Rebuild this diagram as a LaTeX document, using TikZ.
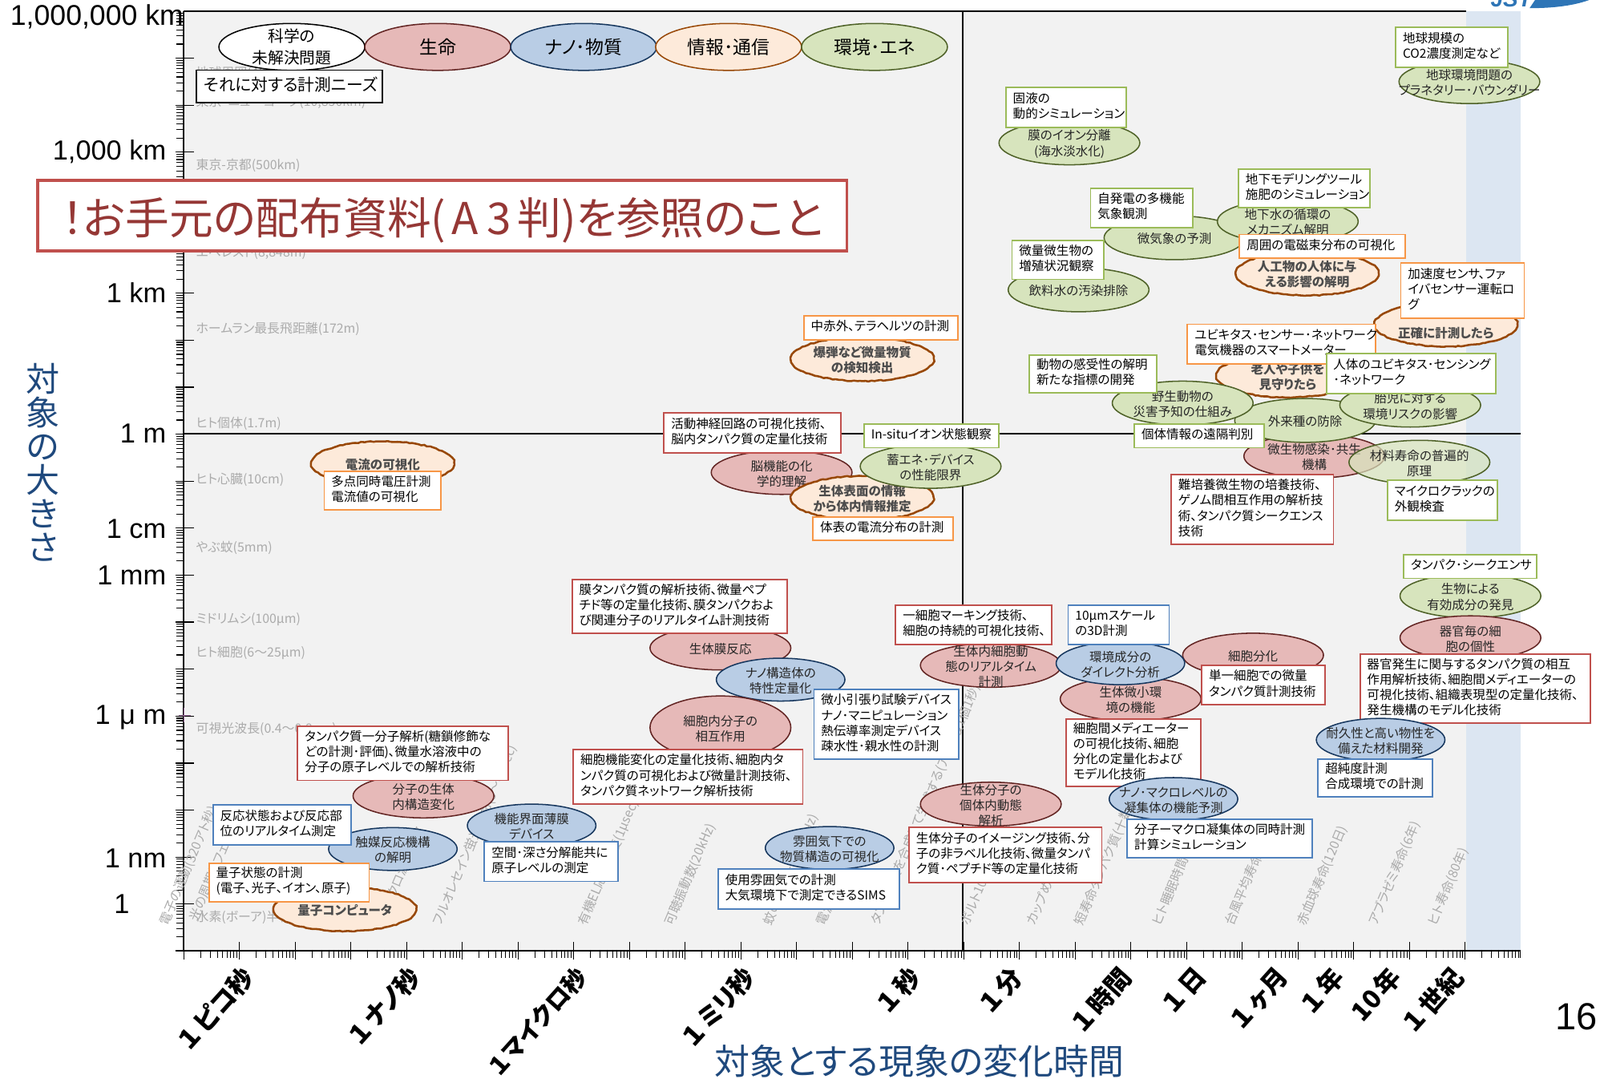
\documentclass[tikz,border=0pt]{standalone}
\usepackage{fontspec}
\setmainfont[RawFeature={+palt}]{Noto Sans CJK JP}
\newfontfamily\axisfont{Liberation Sans}
\usetikzlibrary{shapes.geometric,positioning,decorations.pathmorphing}

\definecolor{lifefill}{HTML}{E6B9B8}
\definecolor{lifeline}{HTML}{632523}
\definecolor{nanofill}{HTML}{B9CDE5}
\definecolor{nanoline}{HTML}{17375E}
\definecolor{infofill}{HTML}{FDEADA}
\definecolor{infoline}{HTML}{984807}
\definecolor{envfill}{HTML}{D7E4BD}
\definecolor{envline}{HTML}{4F6228}
\definecolor{redbord}{HTML}{C0504D}
\definecolor{bluebord}{HTML}{4F81BD}
\definecolor{orangebord}{HTML}{F79646}
\definecolor{greenbord}{HTML}{9BBB59}
\definecolor{plotgray}{HTML}{F2F2F2}
\definecolor{stripblue}{HTML}{DCE6F2}
\definecolor{titleblue}{HTML}{1F497D}
\definecolor{bannerred}{HTML}{953735}
\definecolor{logoblue}{HTML}{2E75B6}

\tikzset{
	smalltxt/.style={font=\fontsize{12.2}{15}\selectfont},
	ell/.style={ellipse, inner sep=0pt, line width=1.2pt, minimum width=138pt, minimum height=43pt},
	etxt/.style={label={[smalltxt, align=center, text=black!85, yshift=-1pt]center:{#1}}},
	ftxt/.style={label={[smalltxt, align=center, text=black!70, yshift=-1pt, font=\fontsize{12.2}{15}\selectfont\bfseries]center:{#1}}},
	lifeell/.style={ell, draw=lifeline, fill=lifefill},
	nanoell/.style={ell, draw=nanoline, fill=nanofill, minimum width=126pt, minimum height=42pt},
	envell/.style={ell, draw=envline, fill=envfill},
	infoell/.style={ell, draw=infoline, fill=infofill, line width=2pt, minimum width=140pt, decorate, decoration={random steps, segment length=3pt, amplitude=0.5pt}},
	legend/.style={ell, minimum width=143pt, minimum height=46pt},
	legtxt/.style={label={[align=center, font=\fontsize{18}{21}\selectfont]center:{#1}}},
	wh/.code 2 args={\pgfmathsetlengthmacro\boxtw{#1-14}\tikzset{text width=\boxtw, minimum height=#2pt}},
	tbox/.style={rectangle, anchor=north west, fill=white, line width=1.5pt, inner xsep=7pt, inner ysep=0pt, align=left, smalltxt, execute at end node=\vspace{3pt}},
	redbox/.style={tbox, draw=redbord},
	bluebox/.style={tbox, draw=bluebord},
	orangebox/.style={tbox, draw=orangebord},
	greenbox/.style={tbox, draw=greenbord},
	graytxt/.style={anchor=west, inner sep=0pt, text=black!33, font=\fontsize{12.5}{14}\selectfont},
	rottxt/.style={anchor=west, rotate=67, xshift=3pt, text=black!33, font=\fontsize{12.5}{14}\selectfont},
	ylab/.style={anchor=east, inner sep=0pt, font=\axisfont\fontsize{27}{30}\selectfont},
	xlab/.style={anchor=east, rotate=48, font=\fontsize{25}{27}\selectfont\bfseries},
}

\begin{document}
\begin{tikzpicture}[x=1pt,y=-1pt]
	\useasboundingbox (0,0) rectangle (1568,1057);

	% plot area
	\fill[plotgray] (180,11) rectangle (1437,932);
	\fill[stripblue] (1437,11) rectangle (1490,932);
	\draw[line width=1pt] (180,11) -- (1437,11);
	\draw[line width=1pt] (943.5,11) -- (943.5,932);
	\draw[line width=1.3pt] (180,425) -- (1490,425);

	% axes and log ticks
	\foreach \k in {0,...,19} {
		\pgfmathsetmacro\yy{932-46.05*\k}
		\draw[line width=0.9pt] (172,\yy) -- (190,\yy);
		\foreach \m in {2,...,9} {
			\pgfmathsetmacro\yy{932-46.05*(\k+log10(\m))}
			\draw[line width=0.9pt] (173,\yy) -- (180,\yy);
		}
	}
	\foreach \k in {0,...,23} {
		\pgfmathsetmacro\xx{180+54.6*\k}
		\draw[line width=0.7pt] (\xx,923) -- (\xx,940);
		\foreach \m in {2,...,9} {
			\pgfmathsetmacro\xx{180+54.6*(\k+log10(\m))}
			\draw[line width=0.7pt] (\xx,932) -- (\xx,939);
		}
	}
	\draw[line width=0.7pt] (1490,932) -- (1490,939);
	\draw[line width=1.6pt] (180,11) -- (180,932);
	\draw[line width=1.6pt] (172,932) -- (1490,932);
	\draw[black!40!violet!60, line width=0.7pt] (175,701) -- (187,701) (180,694) -- (180,708);

	% background scale labels
	\node[graytxt] (g1) at (192,72) {地球周囲(40,000km)};
	\node[graytxt] (g2) at (192,100) {東京･ニューヨーク(10,850km)};
	\node[graytxt] (g3) at (192,162) {東京-京都(500km)};
	\node[graytxt] (g4) at (192,248) {エベレスト(8,848m)};
	\node[graytxt] (g5) at (192,322) {ホームラン最長飛距離(172m)};
	\node[graytxt] (g6) at (192,415) {ヒト個体(1.7m)};
	\node[graytxt] (g7) at (192,470) {ヒト心臓(10cm)};
	\node[graytxt] (g8) at (192,537) {やぶ蚊(5mm)};
	\node[graytxt] (g9) at (192,607) {ミドリムシ(100μm)};
	\node[graytxt] (g10) at (192,640) {ヒト細胞(6～25μm)};
	\node[graytxt] (g11) at (192,714) {可視光波長(0.4～0.8μm)};
	\node[graytxt] (g12) at (192,899) {水素(ボーア)半径};
	\foreach \gx/\gy/\gt [count=\i] in {
		158/912/{電子の運動(320アト秒)},
		187/908/{光の周期(1フェムト秒)},
		372/905/{マイクロ波周波数},
		426/912/{フルオレセイン蛍光寿命(3～4nsec)},
		568/912/{有機EL応答速度(1μsec)},
		653/912/{可聴振動数(20kHz)},
		750/912/{蚊の羽ばたき(600Hz)},
		802/912/{電源周波数(50Hz)},
		855/912/{タンパク質を合成して生成する(アミノ酸1個1秒)},
		943/912/{ボルト100m走(9.58秒)},
		1008/912/{カップめん(3分)},
		1055/912/{短寿命タンパク質(十数分)},
		1131/912/{ヒト睡眠時間(8時間)},
		1202/912/{台風平均寿命(5日)},
		1273/912/{赤血球寿命(120日)},
		1343/912/{アブラゼミ寿命(6年)},
		1401/912/{ヒト寿命(80年)}}
		\node[rottxt] (rot\i) at (\gx,\gy) {\gt};

	% axis labels
	\node[ylab, font=\axisfont\fontsize{28}{30}\selectfont] (y6) at (180,16) {1,000,000 km};
	\node[ylab] (y5) at (163,149) {1,000 km};
	\node[ylab] (y4) at (163,287) {1 km};
	\node[ylab] (y3) at (163,425) {1 m};
	\node[ylab] (y2) at (163,518) {1 cm};
	\node[ylab] (y1) at (163,564) {1 mm};
	\node[ylab] (ym) at (163,703) {1\,\,μ m};
	\node[ylab] (yn) at (163,841) {1 nm};
	\node[ylab] (ya) at (127,886) {1};
	\node[xlab] (t1) at (246,950) {１\hspace{4pt}ピコ秒};
	\node[xlab] (t2) at (409,950) {１\hspace{4pt}ナノ秒};
	\node[xlab, font=\fontsize{23.5}{25}\selectfont\bfseries] (t3) at (573,950) {１\hspace{2pt}マイクロ秒};
	\node[xlab] (t4) at (737,950) {１\hspace{4pt}ミリ秒};
	\node[xlab] (t5) at (899,950) {１\hspace{4pt}秒};
	\node[xlab] (t6) at (999,950) {１\hspace{4pt}分};
	\node[xlab] (t7) at (1106,950) {１\hspace{4pt}時間};
	\node[xlab] (t8) at (1179,950) {１\hspace{4pt}日};
	\node[xlab] (t9) at (1260,950) {１\hspace{4pt}ヶ月};
	\node[xlab] (t10) at (1314,950) {１\hspace{4pt}年};
	\node[xlab] (t11) at (1370,950) {10\hspace{3pt}年};
	\node[xlab] (t12) at (1431,950) {１\hspace{4pt}世紀};
	\node[align=center, text=titleblue, font=\fontsize{33}{33}\selectfont] (ytitle) at (42,453) {対\\象\\の\\大\\き\\さ};
	\node[text=titleblue, font=\fontsize{34.5}{36}\selectfont] (xtitle) at (901,1040) {対象とする現象の変化時間};
	\node[font=\axisfont\fontsize{37}{39}\selectfont] (pagenum) at (1545,996) {16};

	% legend
	\node[legend, draw=black, fill=white, label={[align=center, font=\fontsize{15.5}{21}\selectfont]center:{科学の\\未解決問題}}] (legsci) at (286,46) {};
	\node[legend, draw=lifeline, fill=lifefill, legtxt={生命}] (leglife) at (429,46) {};
	\node[legend, draw=nanoline, fill=nanofill, legtxt={ナノ･物質}] (legnano) at (572,46) {};
	\node[legend, draw=infoline, fill=infofill, legtxt={情報･通信}] (leginfo) at (714,46) {};
	\node[legend, draw=envline, fill=envfill, legtxt={環境･エネ}] (legenv) at (857,46) {};
	\node[tbox, draw=black, font=\fontsize{16.3}{19}\selectfont, wh={182}{32}] (needs) at (192,68) {それに対する計測ニーズ};

	% seeds: lower left
	\node[infoell, ftxt={電流の可視化}] (current) at (375,454) {};
	\node[orangebox, wh={114}{38}] (currentbox) at (317,461) {多点同時電圧計測\\電流値の可視化};
	\node[lifeell, etxt={分子の生体\\内構造変化}] (molbody) at (415,780) {};
	\node[redbox, wh={206}{53}] (molbox) at (291,711) {タンパク質一分子解析(糖鎖修飾な\\どの計測･評価)、微量水溶液中の\\分子の原子レベルでの解析技術};
	\node[nanoell, etxt={触媒反応機構\\の解明}] (catalyst) at (385,832) {};
	\node[bluebox, wh={135}{39}] (catbox) at (208,788) {反応状態および反応部\\位のリアルタイム測定};
	\node[infoell, ftxt={量子コンピュータ}] (quantum) at (338,891) {};
	\node[orangebox, wh={157}{38}] (quantbox) at (204,845) {量子状態の計測\\(電子、光子、イオン、原子)};
	\node[nanoell, etxt={機能界面薄膜\\デバイス}] (iface) at (521,809) {};
	\node[bluebox, wh={131}{39}] (ifacebox) at (474,824) {空間･深さ分解能共に\\原子レベルの測定};

	% seeds: center
	\node[lifeell, etxt={生体膜反応}] (membrane) at (706,635) {};
	\node[redbox, wh={211}{53}] (membox) at (560,567) {膜タンパク質の解析技術、微量ペプ\\チド等の定量化技術、膜タンパクおよ\\び関連分子のリアルタイム計測技術};
	\node[nanoell, etxt={ナノ構造体の\\特性定量化}] (nanostr) at (765,666) {};
	\node[lifeell, minimum height=62pt, etxt={細胞内分子の\\相互作用}] (cellmol) at (706,713) {};
	\node[redbox, wh={225}{53}] (cellbox) at (561,734) {細胞機能変化の定量化技術、細胞内タ\\ンパク質の可視化および微量計測技術、\\タンパク質ネットワーク解析技術};
	\node[bluebox, wh={142}{68}] (tensile) at (797,675) {微小引張り試験デバイス\\ナノ･マニピュレーション\\熱伝導率測定デバイス\\疎水性･親水性の計測};
	\node[nanoell, etxt={雰囲気下での\\物質構造の可視化}] (atmos) at (813,831) {};
	\node[bluebox, wh={178}{39}] (atmosbox) at (703,851) {使用雰囲気での計測\\大気環境下で測定できるSIMS};
	\node[lifeell, etxt={脳機能の化\\学的理解}] (brain) at (766,463) {};
	\node[redbox, wh={173}{39}] (brainbox) at (650,404) {活動神経回路の可視化技術、\\脳内タンパク質の定量化技術};
	\node[infoell, ftxt={生体表面の情報\\から体内情報推定}] (surface) at (845,488) {};
	\node[orangebox, wh={137}{23}] (surfbox) at (796,506) {体表の電流分布の計測};
	\node[envell, etxt={蓄エネ･デバイス\\の性能限界}] (storage) at (912,457) {};
	\node[greenbox, wh={132}{23}] (insitu) at (846,415) {\mbox{In-situ}イオン状態観察};
	\node[infoell, ftxt={爆弾など微量物質\\の検知検出}] (explosive) at (845,352) {};
	\node[orangebox, wh={151}{23}] (terahz) at (787,309) {中赤外、テラヘルツの計測};

	% seeds: cell level
	\node[lifeell, etxt={生体内細胞動\\態のリアルタイム\\計測}] (invivo) at (971,652) {};
	\node[redbox, wh={153}{39}] (invivobox) at (877,592) {一細胞マーキング技術、\\細胞の持続的可視化技術、};
	\node[lifeell, etxt={生体分子の\\個体内動態\\解析}] (biomol) at (971,788) {};
	\node[redbox, wh={189}{54}] (biobox) at (890,810) {生体分子のイメージング技術、分\\子の非ラベル化技術、微量タンパ\\ク質･ペプチド等の定量化技術};
	\node[lifeell, etxt={生体微小環\\境の機能}] (micro) at (1108,685) {};
	\node[redbox, wh={132}{66}] (microbox) at (1044,704) {細胞間メディエーター\\の可視化技術、細胞\\分化の定量化および\\モデル化技術};
	\node[lifeell, etxt={細胞分化}] (differ) at (1228,642) {};
	\node[redbox, wh={121}{39}] (differbox) at (1177,651) {単一細胞での微量\\タンパク質計測技術};
	\node[nanoell, etxt={環境成分の\\ダイレクト分析}] (envdirect) at (1098,650) {};
	\node[bluebox, wh={99}{39}] (tenmicron) at (1046,592) {10μmスケール\\の3D計測};
	\node[nanoell, etxt={ナノ･マクロレベルの\\凝集体の機能予測}] (aggregate) at (1150,783) {};
	\node[bluebox, wh={181}{38}] (aggbox) at (1104,802) {分子ーマクロ凝集体の同時計測\\計算シミュレーション};

	% seeds: upper right
	\node[envell, etxt={地球環境問題の\\プラネタリー･バウンダリー}] (planet) at (1440,80) {};
	\node[greenbox, wh={110}{39}] (co2) at (1367,26) {地球規模の\\CO2濃度測定など};
	\node[envell, etxt={膜のイオン分離\\(海水淡水化)}] (ionsep) at (1048,140) {};
	\node[greenbox, wh={118}{39}] (solid) at (985,85) {固液の\\動的シミュレーション};
	\node[envell, etxt={微気象の予測}] (climate) at (1151,233) {};
	\node[greenbox, wh={100}{38}] (selfgen) at (1068,184) {自発電の多機能\\気象観測};
	\node[envell, etxt={地下水の循環の\\メカニズム解明}] (ground) at (1262,217) {};
	\node[greenbox, wh={129}{38}] (soil) at (1213,165) {地下モデリングツール\\施肥のシミュレーション};
	\node[infoell, ftxt={人工物の人体に与\\える影響の解明}] (artifact) at (1281,268) {};
	\node[orangebox, wh={162}{23}] (emflux) at (1214,229) {周囲の電磁束分布の可視化};
	\node[envell, etxt={飲料水の汚染排除}] (water) at (1057,284) {};
	\node[greenbox, wh={90}{38}] (microbe) at (991,235) {微量微生物の\\増殖状況観察};
	\node[infoell, ftxt={\phantom{あ}\\正確に計測したら}] (accurate) at (1417,318) {};
	\node[orangebox, wh={121}{54}] (accel) at (1372,257) {加速度センサ、ファ\\イバセンサー運転ロ\\グ};
	\node[infoell, ftxt={老人や子供を\\見守りたら}] (elderly) at (1262,368) {};
	\node[orangebox, wh={184}{39}] (ubiq) at (1163,317) {ユビキタス･センサー･ネットワーク\\電気機器のスマートメーター};
	\node[lifeell, etxt={微生物感染･共生\\機構}] (infect) at (1288,447) {};
	\node[envell, etxt={外来種の防除}] (alien) at (1279,412) {};
	\node[envell, etxt={胎児に対する\\環境リスクの影響}] (fetus) at (1382,397) {};
	\node[greenbox, wh={166}{39}] (humanubiq) at (1299,346) {人体のユビキタス･センシング\\･ネットワーク};
	\node[envell, etxt={野生動物の\\災害予知の仕組み}] (wild) at (1159,395) {};
	\node[greenbox, wh={125}{37}] (animal) at (1008,347) {動物の感受性の解明\\新たな指標の開発};
	\node[greenbox, wh={127}{23}] (remote) at (1111,415) {個体情報の遠隔判別};
	\node[redbox, wh={159}{69}] (culture) at (1147,464) {難培養微生物の培養技術、\\ゲノム間相互作用の解析技\\術、タンパク質シークエンス\\技術};
	\node[envell, fill opacity=0.7, etxt={材料寿命の普遍的\\原理}] (lifetime) at (1391,453) {};
	\node[greenbox, wh={108}{39}] (crack) at (1359,470) {マイクロクラックの\\外観検査};

	% seeds: right column
	\node[envell, etxt={生物による\\有効成分の発見}] (natural) at (1441,584) {};
	\node[greenbox, wh={130}{23}] (sequencer) at (1375,543) {タンパク･シークエンサ};
	\node[lifeell, etxt={器官毎の細\\胞の個性}] (organ) at (1441,625) {};
	\node[redbox, wh={226}{68}] (organbox) at (1332,640) {器官発生に関与するタンパク質の相互\\作用解析技術、細胞間メディエーターの\\可視化技術、組織表現型の定量化技術、\\発生機構のモデル化技術};
	\node[nanoell, etxt={耐久性と高い物性を\\備えた材料開発}] (durable) at (1353,725) {};
	\node[bluebox, wh={112}{37}] (purity) at (1291,743) {超純度計測\\合成環境での計測};

	% notice banner
	\node[rectangle, draw=redbord, line width=3pt, fill=white, text=bannerred, minimum width=793pt, minimum height=69pt, font=\fontsize{43}{45}\selectfont] (banner) at (433.5,211.5) {\raisebox{0pt}[40pt][3pt]{！お手元の配布資料(\hspace{6pt}A\hspace{8pt}3\hspace{6pt}判)を参照のこと}};

	% logo, cut by the top edge
	\begin{scope}
		\clip (1440,0) rectangle (1568,8);
		\node[text=logoblue, font=\axisfont\fontsize{22}{24}\selectfont\bfseries\itshape, inner sep=0pt] (logo) at (1481,-1) {JST};
		\fill[logoblue] (1499,8) .. controls (1525,8) and (1545,5) .. (1560,-1) -- (1505,-1) -- cycle;
	\end{scope}
\end{tikzpicture}
\end{document}
